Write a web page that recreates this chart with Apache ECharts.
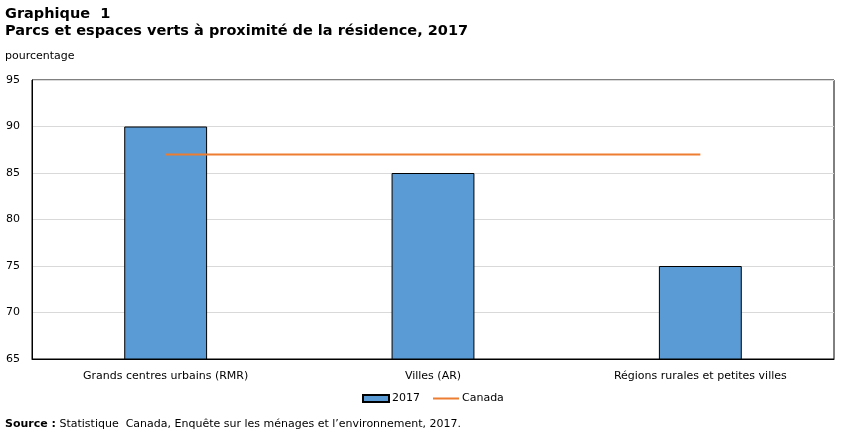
<!DOCTYPE html>
<html>
<head>
<meta charset="utf-8">
<script src="https://cdn.jsdelivr.net/npm/echarts@6/dist/echarts.min.js"></script>
<style>
  html, body { margin: 0; padding: 0; background: #fff; }
  #chart { width: 850px; height: 435px; }
</style>
</head>
<body>
<div id="chart"></div>
<script>
// données
const categories = ["Grands centres urbains (RMR)", "Villes (AR)", "Régions rurales et petites villes"];
const values2017 = [90, 85, 75];
const valuesCanada = [87, 87, 87];

const font = "Verdana, 'DejaVu Sans', sans-serif";

const chart = echarts.init(document.getElementById("chart"));
chart.setOption({
  animation: false,
  textStyle: { fontFamily: font },
  title: [
    { text: "Graphique  1", left: 0, top: 2, textStyle: { fontFamily: font, fontSize: 14.5, fontWeight: "bold", color: "#000" } },
    { text: "Parcs et espaces verts à proximité de la résidence, 2017", left: 0, top: 19, textStyle: { fontFamily: font, fontSize: 14.5, fontWeight: "bold", color: "#000" } },
    { text: "pourcentage", left: 0, top: 46, textStyle: { fontFamily: font, fontSize: 11, fontWeight: "normal", color: "#000" } },
    {
      text: "{b|Source :} Statistique  Canada, Enquête sur les ménages et l’environnement, 2017.",
      left: 0, top: 414,
      textStyle: {
        fontFamily: font, fontSize: 11, fontWeight: "normal", color: "#000",
        rich: { b: { fontFamily: font, fontSize: 11, fontWeight: "bold", color: "#000" } }
      }
    }
  ],
  grid: { left: 32, right: 16, top: 80, bottom: 76, show: true, borderColor: "#000", borderWidth: 1 },
  legend: {
    bottom: 26, left: 357, itemGap: 13, itemWidth: 26, itemHeight: 7,
    textStyle: { fontFamily: font, fontSize: 11, color: "#000", padding: [0, 0, 0, -2] },
    data: [
      { name: "2017", icon: "rect" },
      { name: "Canada", icon: "path://M0,0 L26,0 L26,2 L0,2 Z" }
    ]
  },
  xAxis: {
    type: "category",
    data: categories,
    axisLine: { lineStyle: { color: "#000" } },
    axisTick: { show: false },
    axisLabel: { color: "#000", fontSize: 11, fontFamily: font, margin: 12 }
  },
  yAxis: {
    type: "value",
    min: 65, max: 95, interval: 5,
    axisLine: { show: true, lineStyle: { color: "#000" } },
    axisTick: { show: false },
    axisLabel: { color: "#000", fontSize: 11, fontFamily: font, margin: 12 },
    splitLine: { lineStyle: { color: "#d9d9d9" } }
  },
  series: [
    {
      name: "2017",
      type: "bar",
      data: values2017,
      barWidth: "31%",
      itemStyle: { color: "#5b9bd5", borderColor: "#000", borderWidth: 1 }
    },
    {
      name: "Canada",
      type: "line",
      data: valuesCanada,
      symbol: "none",
      lineStyle: { color: "#ed7d31", width: 2 },
      itemStyle: { color: "#ed7d31" }
    }
  ]
});
</script>
</body>
</html>
